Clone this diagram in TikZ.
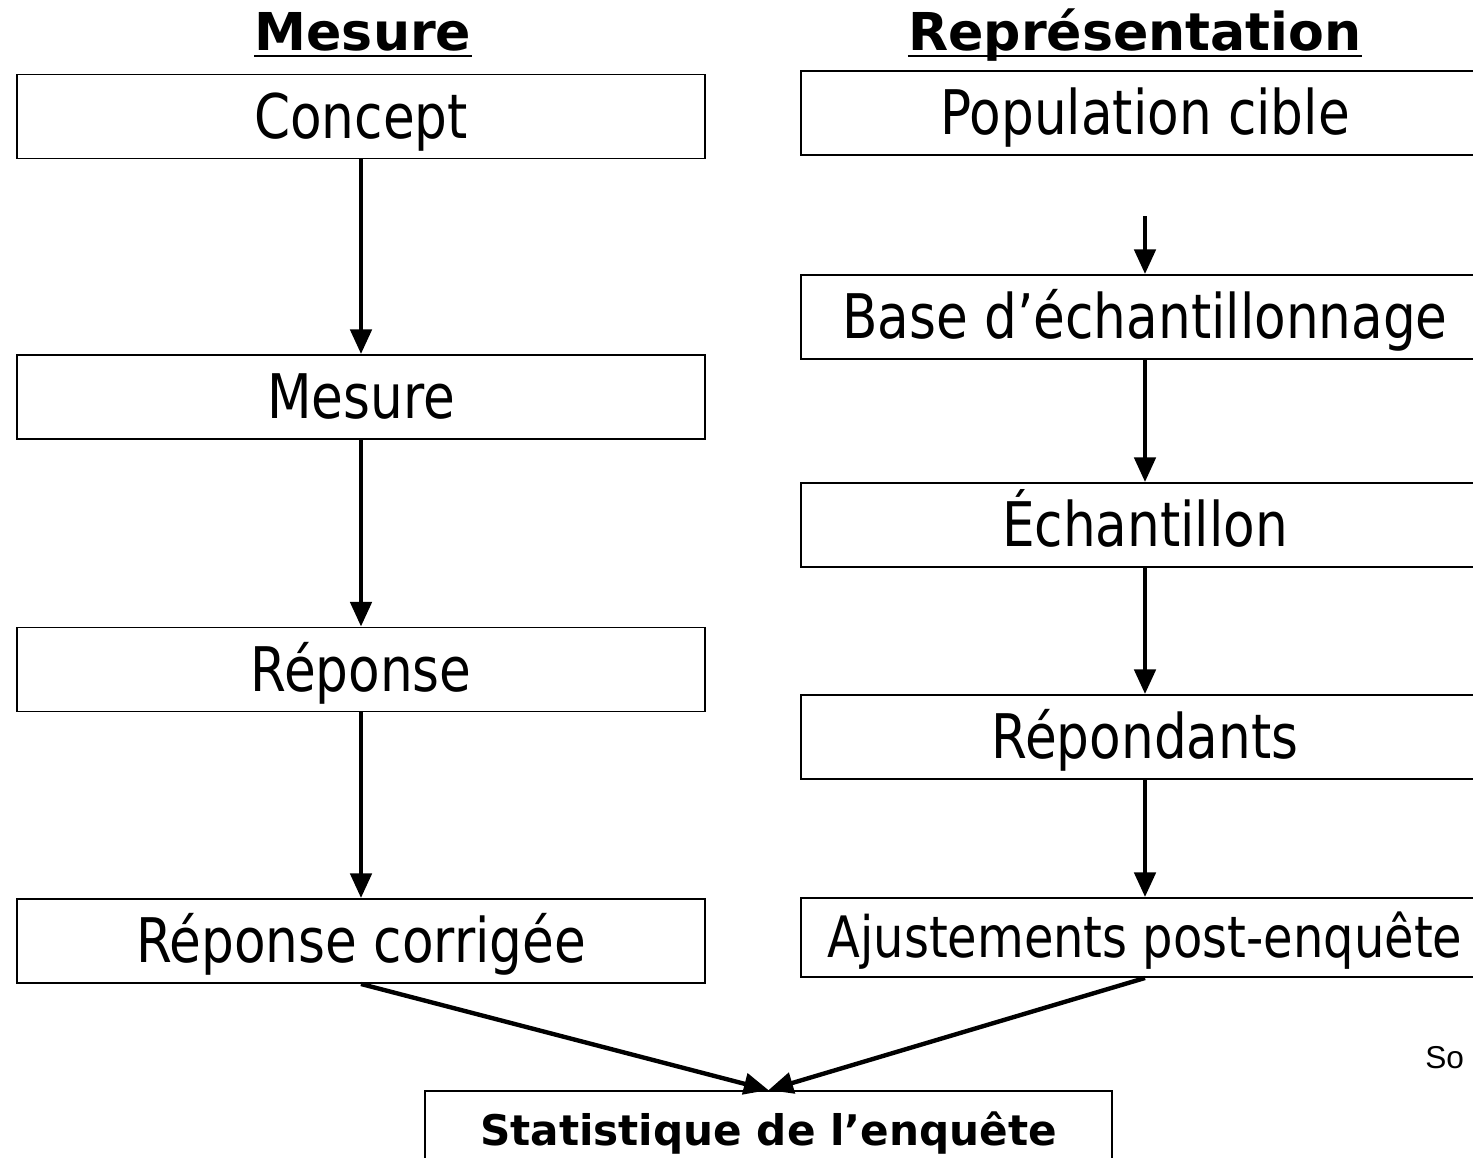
\documentclass[tikz,border=0pt]{standalone}
\usepackage{fontspec}
\setmainfont{DejaVu Sans}
\newfontfamily\boxfont[FakeStretch=0.84]{DejaVu Sans}
\newfontfamily\srcfont{Liberation Sans}
\usepackage{tikz}
\usetikzlibrary{arrows.meta}

\tikzset{
  stepbox/.style={draw, line width=1.1pt, minimum width=13.76cm, minimum height=1.68cm,
    inner sep=0pt, text height=25pt, text depth=0pt, font=\boxfont\fontsize{35}{40}\selectfont},
  header/.style={inner sep=0pt, anchor=base, font=\bfseries\fontsize{29.7}{34}\selectfont},
  uline/.style={line width=1.3pt},
  flow/.style={line width=2.5pt, -{Triangle[length=14pt,width=12pt]}}
}

\begin{document}
\begin{tikzpicture}[x=0.02cm, y=-0.02cm]
    \useasboundingbox (0,0) rectangle (1473,1157);

    % Headers
    \node[header] (hmes) at (363,50) {Mesure};
    \node[header] (hrep) at (1135,50) {Représentation};
    \draw[uline] ([yshift=-3.6pt]hmes.base west) -- ([yshift=-3.6pt]hmes.base east);
    \draw[uline] ([yshift=-3.6pt]hrep.base west) -- ([yshift=-3.6pt]hrep.base east);

    % Measurement side
    \node[stepbox] (concept) at (361,116.5) {Concept};
    \node[stepbox] (mesure) at (361,397) {Mesure};
    \node[stepbox] (reponse) at (361,669.5) {Réponse};
    \node[stepbox] (corr) at (361,941) {Réponse corrigée};

    % Representation side
    \node[stepbox] (pop) at (1145,113) {Population cible};
    \node[stepbox] (base) at (1145,317) {Base d’échantillonnage};
    \node[stepbox] (ech) at (1145,525) {Échantillon};
    \node[stepbox] (repond) at (1145,737) {Répondants};
    \node[stepbox, minimum height=1.58cm, text height=23pt, font=\boxfont\fontsize{32.5}{38}\selectfont]
      (ajust) at (1145,937.5) {Ajustements post-enquête};

    % Result
    \node[draw, fill=white, line width=1.1pt, minimum width=13.74cm, minimum height=1.68cm,
      inner sep=0pt, font=\bfseries\fontsize{24}{28}\selectfont] (stat) at (768.5,1133) {Statistique de l’enquête};
    \node[anchor=west, inner sep=0pt, font=\srcfont\fontsize{18}{21}\selectfont] (src) at (1425,1058) {So};

    % Arrows
    \coordinate (popout) at (1145,216);
    \draw[flow] (concept) -- (mesure);
    \draw[flow] (mesure) -- (reponse);
    \draw[flow] (reponse) -- (corr);
    \draw[flow] (popout) -- (base);
    \draw[flow] (base) -- (ech);
    \draw[flow] (ech) -- (repond);
    \draw[flow] (repond) -- (ajust);
    \draw[flow] (corr.south) -- (stat.north);
    \draw[flow] (ajust.south) -- (stat.north);

\end{tikzpicture}
\end{document}
